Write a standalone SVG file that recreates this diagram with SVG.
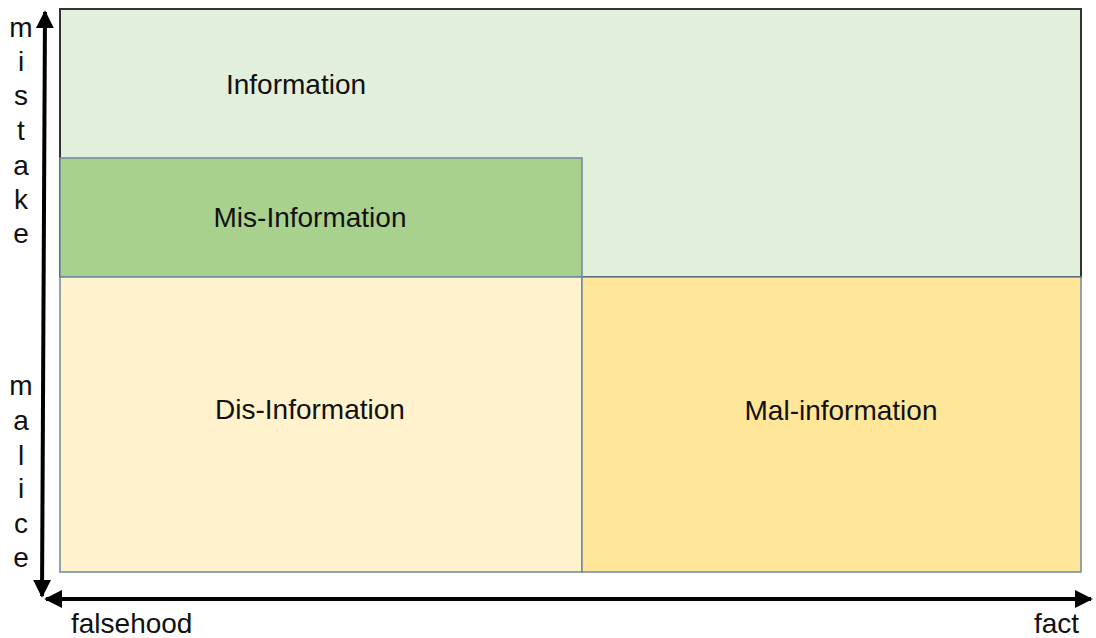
<svg xmlns="http://www.w3.org/2000/svg" width="1096" height="638" viewBox="0 0 1096 638">
<defs>
<style>
text{font-family:"Liberation Sans",Arial,sans-serif;font-size:28px;fill:#111;}
.c{text-anchor:middle;}
.box{stroke:#6d87a3;stroke-width:1.5;}
.ax{stroke:#000;stroke-width:4;fill:none;}
</style>
<marker id="ah" viewBox="0 0 10 10" refX="9" refY="5" markerWidth="4.5" markerHeight="4.5" orient="auto-start-reverse" markerUnits="strokeWidth">
<path d="M0,0 L10,5 L0,10 z" fill="#000"/>
</marker>
</defs>
<rect width="1096" height="638" fill="#fff"/>
<g id="information">
<rect x="60" y="9" width="1021" height="268" fill="#E2EFDA" stroke="#333" stroke-width="2"/>
<text class="c" x="296" y="94">Information</text>
</g>
<g id="mis-information">
<rect class="box" x="60" y="158" width="522" height="119" fill="#A9D18E"/>
<text class="c" x="310" y="227">Mis-Information</text>
</g>
<g id="dis-information">
<rect class="box" x="60" y="277" width="522" height="295" fill="#FFF2CC"/>
<text class="c" x="310" y="419">Dis-Information</text>
</g>
<g id="mal-information">
<rect class="box" x="582" y="277" width="499" height="295" fill="#FFE699"/>
<text class="c" x="841" y="420">Mal-information</text>
</g>
<g id="connectors">
<line class="ax" x1="42" y1="596" x2="45" y2="12" marker-start="url(#ah)" marker-end="url(#ah)"/>
<line class="ax" x1="46" y1="599" x2="1091" y2="599" marker-start="url(#ah)" marker-end="url(#ah)"/>
</g>
<g id="labels">
<text class="c" x="21" y="37">m</text>
<text class="c" x="21" y="71">i</text>
<text class="c" x="21" y="105">s</text>
<text class="c" x="21" y="140">t</text>
<text class="c" x="21" y="175">a</text>
<text class="c" x="21" y="209">k</text>
<text class="c" x="21" y="243">e</text>
<text class="c" x="21" y="395">m</text>
<text class="c" x="21" y="430">a</text>
<text class="c" x="21" y="465">l</text>
<text class="c" x="21" y="498">i</text>
<text class="c" x="21" y="533">c</text>
<text class="c" x="21" y="567">e</text>
<text x="71" y="633">falsehood</text>
<text x="1034" y="633">fact</text>
</g>
</svg>
